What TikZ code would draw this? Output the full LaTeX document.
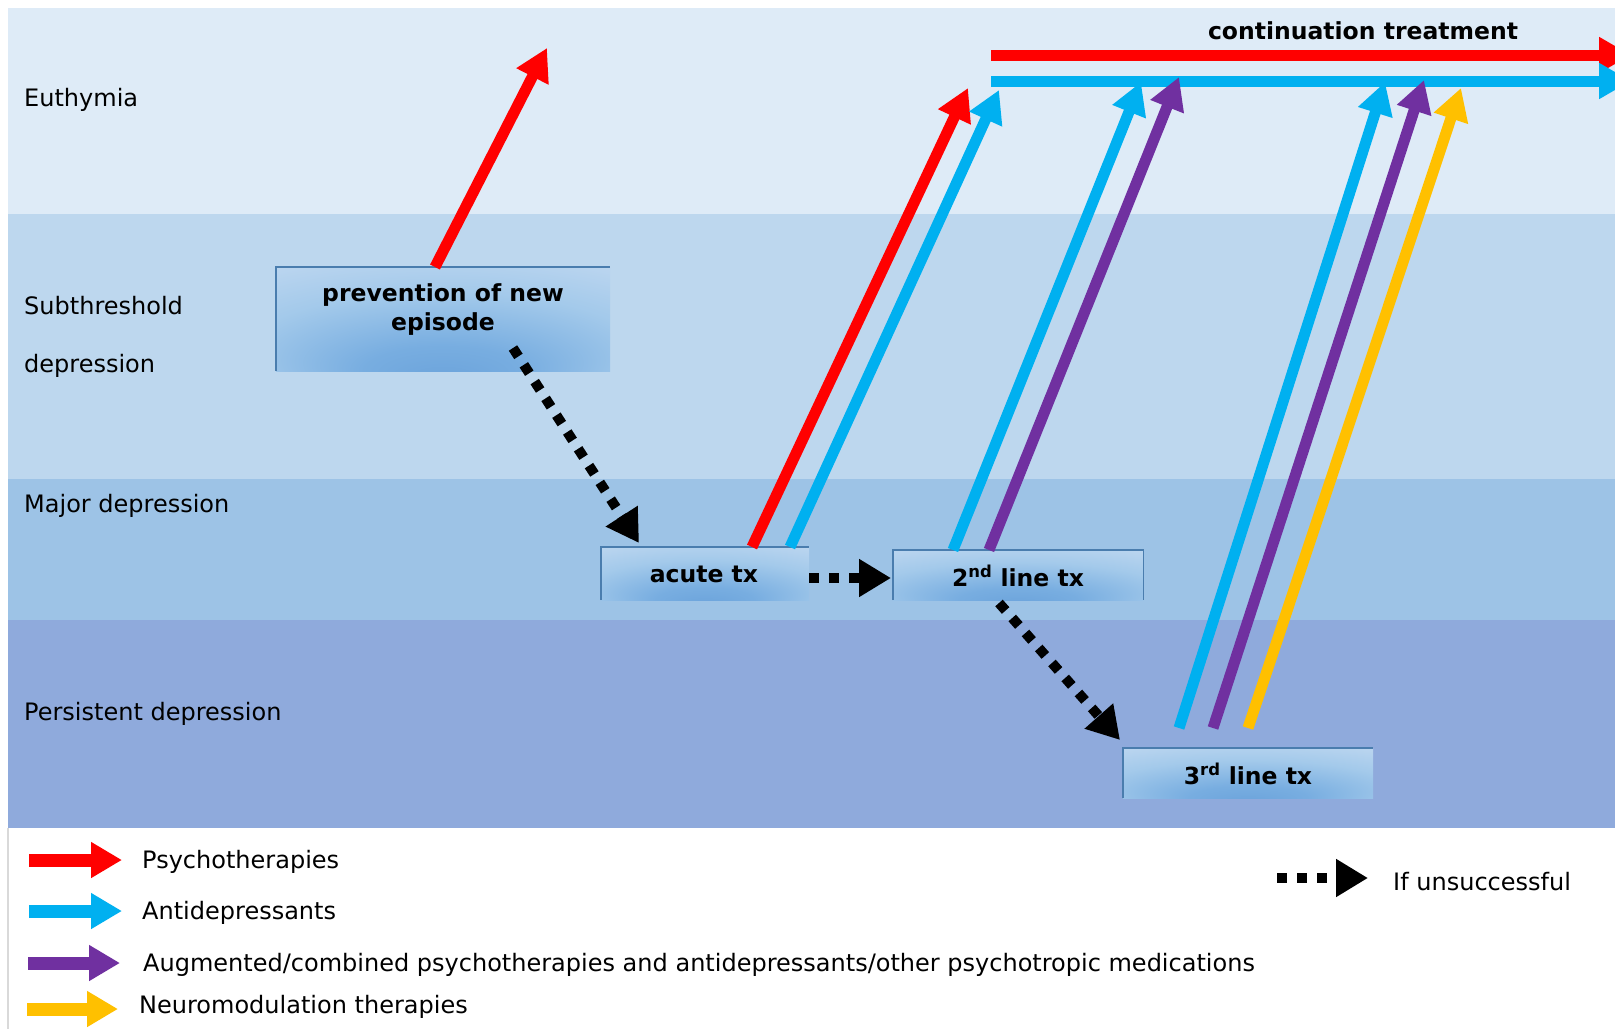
\documentclass[tikz,border=0pt]{standalone}
\usepackage{fontspec}
\setmainfont{DejaVu Sans}
\usetikzlibrary{arrows.meta}
\definecolor{bandA}{HTML}{DEEBF7}
\definecolor{bandB}{HTML}{BDD7EE}
\definecolor{bandC}{HTML}{9DC3E6}
\definecolor{bandD}{HTML}{8FAADC}
\definecolor{pRed}{HTML}{FF0000}
\definecolor{pBlue}{HTML}{00B0F0}
\definecolor{pPurple}{HTML}{7030A0}
\definecolor{pYellow}{HTML}{FFC000}
\definecolor{edgeBlue}{HTML}{4A7DAE}
\definecolor{frameGray}{HTML}{D9D9D9}
\pgfdeclareradialshading{boxshade}{\pgfpoint{0bp}{-30bp}}{rgb(0bp)=(0.42,0.64,0.86);rgb(12bp)=(0.47,0.68,0.88);rgb(30bp)=(0.64,0.79,0.92);rgb(45bp)=(0.74,0.84,0.94);rgb(70bp)=(0.76,0.85,0.94)}
\begin{document}
\begin{tikzpicture}[x=1pt,y=-1pt,
  every node/.style={font=\fontsize{24}{29}\selectfont},
  lbl/.style={anchor=west,inner sep=0pt,text height=17pt,text depth=0pt},
  boxtxt/.style={inner sep=0pt,font=\fontsize{23.5}{29}\selectfont\bfseries,align=center},
  txbox/.style={shading=boxshade,inner sep=0pt},
  boxedge/.style={draw=edgeBlue,line width=1.4pt},
  thickarrow/.style={line width=11pt,-{Triangle[width=34pt,length=32pt]}},
  legarrow/.style={line width=13pt,-{Triangle[width=34pt,length=31pt]}},
  dotarrow/.style={line width=10pt,dash pattern=on 10pt off 10pt,-{Triangle[width=36pt,length=32pt]}}]
\useasboundingbox (0,0) rectangle (1615,1029);
\clip (0,0) rectangle (1615,1029);
\fill[white] (0,0) rectangle (1615,1029);
% bands
\fill[bandA] (8,8) rectangle (1615,214);
\fill[bandB] (8,214) rectangle (1615,479);
\fill[bandC] (8,479) rectangle (1615,620);
\fill[bandD] (8,620) rectangle (1615,828);
\draw[frameGray,line width=1.5pt] (8,828) -- (8,1029);
% band labels
\node[lbl] (euth) at (24,98) {Euthymia};
\node[lbl] (sub1) at (24,306) {Subthreshold};
\node[lbl] (sub2) at (24,364) {depression};
\node[lbl] (major) at (24,504) {Major depression};
\node[lbl] (pers) at (24,712) {Persistent depression};
% boxes
\node[txbox,minimum width=334pt,minimum height=104pt] (prev) at (443,319) {};
\draw[boxedge] (prev.south west) -- (prev.north west) -- (prev.north east);
\node[boxtxt] (prevtxt) at (443,310) {prevention of new\\episode};
\node[txbox,minimum width=208pt,minimum height=53pt] (acute) at (705,573.5) {};
\draw[boxedge] (acute.south west) -- (acute.north west) -- (acute.north east);
\node[boxtxt] (acutetxt) at (704,574) {acute tx};
\node[txbox,minimum width=250pt,minimum height=50pt] (second) at (1018,575) {};
\draw[boxedge] (second.south west) -- (second.north west) -- (second.north east) -- (second.south east);
\node[boxtxt] (secondtxt) at (1018,576) {2\textsuperscript{nd} line tx};
\node[txbox,minimum width=250pt,minimum height=50pt] (third) at (1248,773) {};
\draw[boxedge] (third.south west) -- (third.north west) -- (third.north east);
\node[boxtxt] (thirdtxt) at (1248,774) {3\textsuperscript{rd} line tx};
% continuation treatment
\node[boxtxt] (cont) at (1363,31) {continuation treatment};
\coordinate (cRs) at (991,55);
\coordinate (cRe) at (1631,55);
\coordinate (cBs) at (991,81);
\coordinate (cBe) at (1631,81);
\draw[thickarrow,pRed] (cRs) -- (cRe);
\draw[thickarrow,pBlue] (cBs) -- (cBe);
% arrow end points
\coordinate (pvS) at (435,267);
\coordinate (pvE) at (547,48);
\coordinate (arS) at (752,547);
\coordinate (arE) at (968,88);
\coordinate (abS) at (790,547);
\coordinate (abE) at (999,90);
\coordinate (sbS) at (953,550);
\coordinate (sbE) at (1141,82);
\coordinate (spS) at (989,550);
\coordinate (spE) at (1179,77);
\coordinate (tbS) at (1179,728);
\coordinate (tbE) at (1385,82);
\coordinate (tpS) at (1213,728);
\coordinate (tpE) at (1424,80);
\coordinate (tyS) at (1248,728);
\coordinate (tyE) at (1461,88);
\draw[thickarrow,pRed] (pvS) -- (pvE);
\draw[thickarrow,pRed] (arS) -- (arE);
\draw[thickarrow,pBlue] (abS) -- (abE);
\draw[thickarrow,pBlue] (sbS) -- (sbE);
\draw[thickarrow,pPurple] (spS) -- (spE);
\draw[thickarrow,pBlue] (tbS) -- (tbE);
\draw[thickarrow,pPurple] (tpS) -- (tpE);
\draw[thickarrow,pYellow] (tyS) -- (tyE);
% dotted "if unsuccessful" arrows
\coordinate (d1S) at (513,348);
\coordinate (d1E) at (639,543);
\coordinate (d2S) at (809,578);
\coordinate (d2E) at (891,578);
\coordinate (d3S) at (999,603);
\coordinate (d3E) at (1120,740);
\draw[dotarrow,black] (d1S) -- (d1E);
\draw[dotarrow,black] (d2S) -- (d2E);
\draw[dotarrow,black] (d3S) -- (d3E);
% legend
\coordinate (lrS) at (29,860);
\coordinate (lrE) at (122,860);
\coordinate (lbS) at (29,911);
\coordinate (lbE) at (122,911);
\coordinate (lpS) at (28,963);
\coordinate (lpE) at (120,963);
\coordinate (lyS) at (27,1009);
\coordinate (lyE) at (118,1009);
\draw[legarrow,pRed] (lrS) -- (lrE);
\draw[legarrow,pBlue] (lbS) -- (lbE);
\draw[legarrow,pPurple] (lpS) -- (lpE);
\draw[legarrow,pYellow] (lyS) -- (lyE);
\node[lbl] (lgr) at (142,860) {Psychotherapies};
\node[lbl] (lgb) at (142,911) {Antidepressants};
\node[lbl] (lgp) at (143,963) {Augmented/combined psychotherapies and antidepressants/other psychotropic medications};
\node[lbl] (lgy) at (139,1005) {Neuromodulation therapies};
\coordinate (ldS) at (1277,878);
\coordinate (ldE) at (1368,878);
\draw[dotarrow,black] (ldS) -- (ldE);
\node[lbl] (lgd) at (1393,882) {If unsuccessful};
\end{tikzpicture}
\end{document}
